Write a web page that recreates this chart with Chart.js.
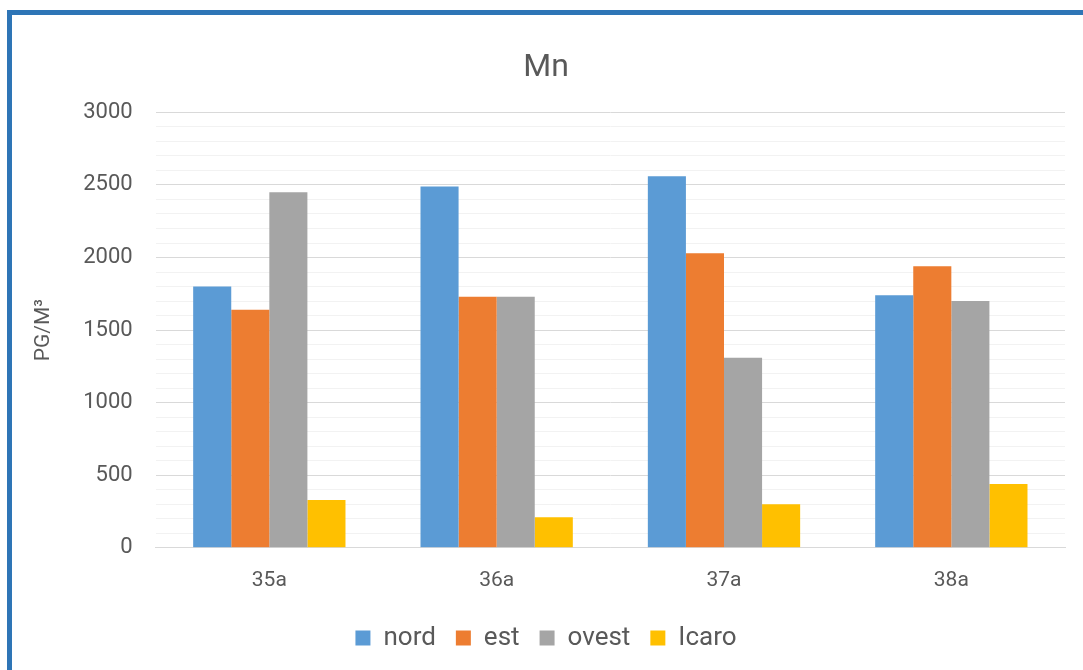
<!DOCTYPE html>
<html>
<head>
<meta charset="utf-8">
<script src="https://cdn.jsdelivr.net/npm/chart.js@4"></script>
<style>
  html, body { margin: 0; padding: 0; background: #fff; }
  #frame {
    position: absolute; left: 7px; top: 10px; width: 1090px; height: 680px;
    border-left: 5px solid #2E75B6; border-top: 5px solid #2E75B6;
  }
  #wrap { position: absolute; left: 0; top: 0; width: 1083px; height: 670px; }
</style>
</head>
<body>
<div id="frame"></div>
<div id="wrap"><canvas id="chart"></canvas></div>
<script>
const categories = ['35a', '36a', '37a', '38a'];
const nord = [1800, 2490, 2560, 1740];
const est = [1640, 1730, 2030, 1940];
const ovest = [2450, 1730, 1310, 1700];
const icaro = [330, 210, 300, 440];

const textColor = '#595959';
const fontFamily = 'Roboto, "Open Sans", sans-serif';

const ctx = document.getElementById('chart').getContext('2d');
new Chart(ctx, {
    type: 'bar',
    data: {
        labels: categories,
        datasets: [
            { label: 'nord', data: nord, backgroundColor: '#5B9BD5' },
            { label: 'est', data: est, backgroundColor: '#ED7D31' },
            { label: 'ovest', data: ovest, backgroundColor: '#A5A5A5' },
            { label: 'Icaro', data: icaro, backgroundColor: '#FFC000' }
        ]
    },
    options: {
        responsive: true,
        maintainAspectRatio: false,
        animation: false,
        datasets: { bar: { categoryPercentage: 0.67, barPercentage: 1.0 } },
        layout: { padding: { left: 27, right: 18, top: 49, bottom: 9 } },
        scales: {
            x: {
                grid: { display: false },
                border: { color: '#D9D9D9', width: 1 },
                ticks: { color: textColor, font: { family: fontFamily, size: 21 }, padding: 12 }
            },
            y: {
                min: 0,
                max: 3000,
                border: { display: false },
                grid: {
                    color: (c) => (c.tick && c.tick.value % 500 === 0) ? '#D9D9D9' : '#F2F2F2',
                    drawTicks: false
                },
                ticks: {
                    stepSize: 100,
                    autoSkip: false,
                    padding: 23,
                    color: textColor,
                    font: { family: fontFamily, size: 22 },
                    callback: (v) => (v % 500 === 0 ? v : '')
                },
                title: {
                    display: true,
                    text: 'PG/M³',
                    color: textColor,
                    font: { family: fontFamily, size: 21 }
                }
            }
        },
        plugins: {
            title: {
                display: true,
                text: 'Mn',
                color: textColor,
                font: { family: fontFamily, size: 32, weight: 'normal' },
                padding: { top: 0, bottom: 25 }
            },
            legend: {
                position: 'bottom',
                labels: {
                    color: textColor,
                    font: { family: fontFamily, size: 26 },
                    boxWidth: 15,
                    boxHeight: 15,
                    padding: 20
                }
            },
            tooltip: { enabled: false }
        }
    }
});
</script>
</body>
</html>
